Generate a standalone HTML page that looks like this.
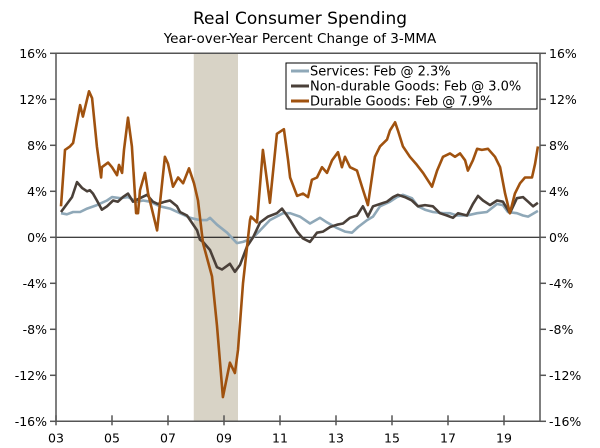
<!DOCTYPE html>
<html><head><meta charset="utf-8"><style>
body{margin:0;background:#fff;}
svg{display:block;font-family:"DejaVu Sans","Liberation Sans",sans-serif;}
</style></head><body>
<svg id="chart" width="600" height="448" viewBox="0 0 600 448">
<text x="300" y="24" text-anchor="middle" font-size="17" fill="#000">Real Consumer Spending</text>
<text x="300" y="43" text-anchor="middle" font-size="13.5" fill="#000">Year-over-Year Percent Change of 3-MMA</text>
<g id="plot"></g>
<g>
<rect x="286" y="63" width="251" height="46" fill="#fff" stroke="#000" stroke-width="1"/>
<line x1="291" y1="71" x2="309" y2="71" stroke="#8fa8b8" stroke-width="3"/>
<text x="310" y="75.5" font-size="13">Services: Feb @ 2.3%</text>
<line x1="291" y1="86" x2="309" y2="86" stroke="#4a4039" stroke-width="3"/>
<text x="310" y="90.5" font-size="13">Non-durable Goods: Feb @ 3.0%</text>
<line x1="291" y1="101" x2="309" y2="101" stroke="#a0520f" stroke-width="3"/>
<text x="310" y="105.5" font-size="13">Durable Goods: Feb @ 7.9%</text>
</g>
</svg>
<script>
const yTicks=[16,12,8,4,0,-4,-8,-12,-16];
const xTickYears=[2003,2005,2007,2009,2011,2013,2015,2017,2019];
const xTickLabels=["03","05","07","09","11","13","15","17","19"];
const recession=[2007.92,2009.5];
const durYears=[2003.18,2003.32,2003.5,2003.61,2003.86,2003.96,2004.18,2004.29,2004.46,2004.61,2004.64,2004.86,2005.0,2005.18,2005.25,2005.36,2005.43,2005.57,2005.71,2005.86,2005.93,2006.0,2006.18,2006.29,2006.61,2006.89,2007.0,2007.18,2007.36,2007.54,2007.75,2007.93,2008.07,2008.25,2008.57,2008.75,2008.96,2009.21,2009.39,2009.5,2009.68,2009.93,2009.96,2010.18,2010.39,2010.64,2010.89,2011.14,2011.29,2011.36,2011.61,2011.82,2012.0,2012.14,2012.32,2012.5,2012.68,2012.86,2013.07,2013.21,2013.32,2013.5,2013.75,2013.93,2014.14,2014.39,2014.57,2014.82,2014.93,2015.11,2015.21,2015.39,2015.64,2015.89,2016.11,2016.43,2016.61,2016.82,2017.07,2017.25,2017.43,2017.61,2017.71,2017.89,2018.04,2018.21,2018.43,2018.68,2018.86,2019.04,2019.21,2019.39,2019.57,2019.75,2020.0,2020.11,2020.21];
const durValues=[2.7,7.6,7.9,8.2,11.5,10.5,12.7,12.1,7.9,5.2,6.1,6.5,6.1,5.4,6.3,5.6,7.6,10.4,7.9,2.1,2.1,4.1,5.6,3.8,0.6,7.0,6.4,4.4,5.2,4.7,6.0,4.7,3.2,-0.5,-3.4,-7.7,-13.9,-10.9,-11.8,-9.8,-4.0,1.5,1.8,1.3,7.6,3.0,9.0,9.4,6.7,5.2,3.6,3.8,3.5,5.0,5.2,6.1,5.6,6.7,7.4,6.1,7.0,6.1,5.8,4.4,2.8,7.0,7.9,8.5,9.3,10.0,9.3,7.9,7.0,6.3,5.6,4.4,5.8,7.0,7.3,7.0,7.3,6.7,5.8,6.7,7.7,7.6,7.7,7.0,6.1,3.8,2.1,3.8,4.7,5.2,5.2,6.4,7.9];
const nonYears=[2003.18,2003.39,2003.57,2003.75,2003.93,2004.11,2004.21,2004.32,2004.46,2004.64,2004.82,2005.04,2005.21,2005.39,2005.57,2005.75,2006.0,2006.25,2006.46,2006.64,2006.89,2007.07,2007.32,2007.43,2007.68,2008.04,2008.14,2008.25,2008.5,2008.75,2008.93,2009.21,2009.39,2009.57,2009.82,2010.04,2010.29,2010.57,2010.89,2011.07,2011.25,2011.36,2011.61,2011.82,2012.07,2012.32,2012.54,2012.79,2013.04,2013.25,2013.5,2013.75,2013.96,2014.14,2014.32,2014.57,2014.82,2015.04,2015.21,2015.46,2015.71,2015.93,2016.18,2016.46,2016.71,2016.96,2017.18,2017.36,2017.68,2017.89,2018.07,2018.25,2018.5,2018.75,2018.96,2019.21,2019.46,2019.68,2019.86,2020.04,2020.21];
const nonValues=[2.2,2.9,3.5,4.8,4.3,4.0,4.1,3.8,3.2,2.4,2.7,3.2,3.1,3.5,3.8,3.1,3.4,3.7,3.1,2.9,3.1,3.2,2.7,2.2,1.9,0.6,-0.2,-0.4,-1.1,-2.6,-2.8,-2.3,-3.0,-2.4,-0.8,0.0,1.3,1.8,2.1,2.5,1.9,1.5,0.5,-0.1,-0.4,0.4,0.5,0.9,1.1,1.2,1.7,1.9,2.7,1.8,2.7,2.9,3.1,3.5,3.7,3.5,3.2,2.7,2.8,2.7,2.1,1.9,1.7,2.1,1.9,2.9,3.6,3.2,2.8,3.2,3.1,2.1,3.4,3.5,3.1,2.7,3.0];
const svcYears=[2003.18,2003.39,2003.61,2003.86,2004.11,2004.46,2004.82,2005.0,2005.29,2005.57,2005.89,2006.11,2006.36,2006.71,2007.07,2007.43,2007.79,2008.14,2008.39,2008.5,2008.75,2009.11,2009.46,2009.68,2010.0,2010.29,2010.64,2011.11,2011.36,2011.71,2012.07,2012.43,2012.68,2013.04,2013.32,2013.57,2013.79,2014.11,2014.32,2014.57,2014.93,2015.18,2015.39,2015.71,2015.93,2016.18,2016.46,2016.82,2017.07,2017.32,2017.68,2018.04,2018.39,2018.75,2018.96,2019.14,2019.46,2019.68,2019.86,2020.21];
const svcValues=[2.1,2.0,2.2,2.2,2.5,2.8,3.2,3.5,3.4,3.5,3.1,3.2,3.1,2.7,2.5,2.1,1.7,1.5,1.5,1.7,1.1,0.4,-0.5,-0.4,-0.1,0.6,1.5,2.1,2.1,1.8,1.2,1.7,1.3,0.8,0.5,0.4,0.9,1.5,1.8,2.7,3.1,3.5,3.7,3.4,2.7,2.4,2.2,2.1,2.1,1.9,1.9,2.1,2.2,2.9,2.8,2.2,2.1,1.9,1.8,2.3];

const X0=56,X1=540,Y0=2003,YR=28;
function xs(y){return X0+(y-Y0)*YR;}
function ys(v){return 237.3-v*11.5;}
const NS="http://www.w3.org/2000/svg";
const g=document.getElementById('plot');
function mk(t,a){const e=document.createElementNS(NS,t);for(const k in a)e.setAttribute(k,a[k]);g.appendChild(e);return e;}
let r=mk('rect',{x:xs(recession[0]),y:ys(16),width:xs(recession[1])-xs(recession[0]),height:ys(-16)-ys(16),fill:'#d8d3c6'});


let z=mk('line',{x1:X0,x2:X1,y1:ys(0),y2:ys(0),stroke:'#000','stroke-width':1});


function series(yrs,vals,col,name){
  const d=yrs.map((y,i)=>(i?'L':'M')+xs(y).toFixed(1)+' '+ys(vals[i]).toFixed(1)).join(' ');
  const p=mk('path',{d:d,fill:'none',stroke:col,'stroke-width':2.6,'stroke-linejoin':'round'});
  
  
}
series(svcYears,svcValues,'#8fa8b8','services-line');
series(nonYears,nonValues,'#4a4039','nondurable-line');
series(durYears,durValues,'#a0520f','durable-line');
let fr=mk('path',{d:`M${X0} ${ys(-16)} L${X0} ${ys(16)} L${X1} ${ys(16)} L${X1} ${ys(-16)} Z`,fill:'none',stroke:'#555','stroke-width':1.5});


yTicks.forEach(v=>{
  const y=ys(v);
  mk('line',{x1:X0-6,x2:X0,y1:y,y2:y,stroke:'#555','stroke-width':1.5});
  mk('line',{x1:X1,x2:X1+6,y1:y,y2:y,stroke:'#555','stroke-width':1.5});
  const lt=mk('text',{x:X0-9,y:y+4.5,'text-anchor':'end','font-size':12.5});
  lt.textContent=v+'%';
  
  
  const rt=mk('text',{x:X1+9,y:y+4.5,'text-anchor':'start','font-size':12.5});
  rt.textContent=v+'%';
  
  
});
xTickYears.forEach((yr,i)=>{
  const x=xs(yr);
  mk('line',{x1:x,x2:x,y1:ys(-16)-6,y2:ys(-16)+4,stroke:'#555','stroke-width':1.5});
  const t=mk('text',{x:x,y:ys(-16)+21,'text-anchor':'middle','font-size':12.5});
  t.textContent=xTickLabels[i];
  
  
});
</script>
</body></html>
